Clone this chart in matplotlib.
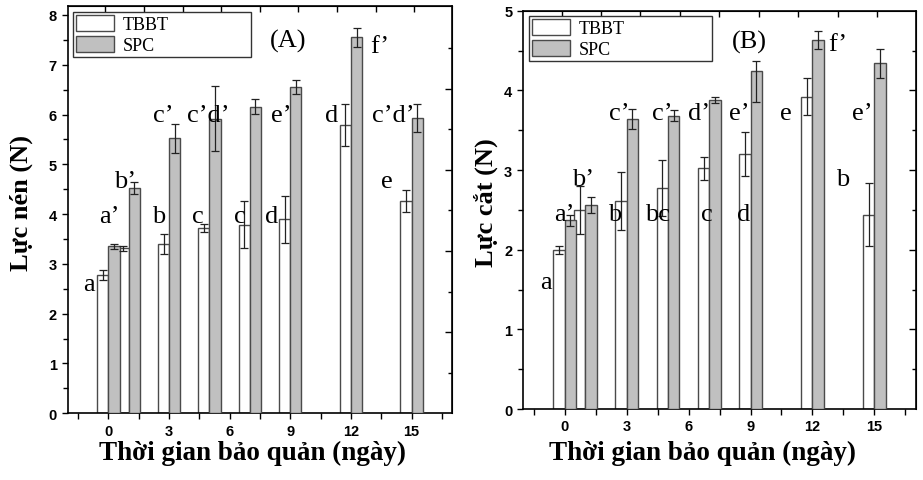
import matplotlib
matplotlib.use("Agg")
import matplotlib.pyplot as plt
from matplotlib.ticker import MultipleLocator, FixedLocator, NullFormatter
from matplotlib.patches import Patch

# group centres as they are drawn in the figure (the x axis is labelled in days)
groups = [0, 1, 3, 5, 7, 9, 12, 15]
day_ticks = [0, 3, 6, 9, 12, 15]

# (A) Lực nén (N)
tbbt_a = [2.78, 3.31, 3.40, 3.73, 3.79, 3.90, 5.79, 4.26]
tbbt_a_err = [0.10, 0.06, 0.20, 0.08, 0.48, 0.47, 0.42, 0.22]
spc_a = [3.35, 4.52, 5.52, 5.92, 6.16, 6.56, 7.55, 5.93]
spc_a_err = [0.05, 0.12, 0.30, 0.66, 0.15, 0.14, 0.19, 0.29]

# (B) Lực cắt (N)
tbbt_b = [2.00, 2.50, 2.61, 2.77, 3.02, 3.20, 3.92, 2.44]
tbbt_b_err = [0.05, 0.30, 0.36, 0.35, 0.14, 0.28, 0.23, 0.40]
spc_b = [2.37, 2.56, 3.64, 3.68, 3.88, 4.24, 4.63, 4.34]
spc_b_err_lo = [0.07, 0.10, 0.13, 0.07, 0.04, 0.38, 0.11, 0.18]
spc_b_err_hi = [0.07, 0.10, 0.13, 0.07, 0.04, 0.13, 0.11, 0.18]

# significance letters
letters_a = ["a", "a’", "b’", "b", "c’", "c", "c’d’", "c", "e’", "d", "d", "f’", "c’d’", "e", "(A)"]
letters_a_x = [-0.96, 0.06, 0.8, 2.46, 2.7, 4.44, 4.93, 6.5, 8.56, 8.07, 11.04, 13.43, 14.09, 13.76, 8.89]
letters_a_y = [2.6, 3.97, 4.67, 3.97, 6.0, 3.97, 6.0, 3.97, 6.0, 3.97, 6.0, 7.38, 6.0, 4.67, 7.48]

letters_b = ["a", "a’", "b’", "b", "c’", "bc", "c’", "d’", "c", "e’", "d", "e", "f’", "e’", "b", "(B)"]
letters_b_x = [-0.89, 0.0, 0.88, 2.4, 2.65, 4.5, 4.74, 6.5, 6.88, 8.44, 8.65, 10.7, 13.2, 14.4, 13.44, 8.93]
letters_b_y = [1.59, 2.45, 2.89, 2.45, 3.72, 2.45, 3.72, 3.72, 2.45, 3.72, 2.45, 3.72, 4.58, 3.72, 2.89, 4.62]

serif = "Liberation Serif"
sans = "Liberation Sans"
bar_w = 0.55
white_col = "white"
grey_col = "#c0c0c0"
edge_col = "#4a4a4a"

# odd extra ticks on the top / right frame lines
top_ticks = [-0.15, 1.76, 3.67, 5.58, 7.49, 9.40, 11.31, 13.22, 15.13]
right_a_major = [1.63, 3.25, 4.89, 6.51]
right_a_minor = [0.81, 2.44, 4.08, 5.71, 7.34]
right_b_major = [1, 2, 3, 4]
right_b_minor = [0.5, 1.5, 2.5, 3.5, 4.5]

fig = plt.figure(figsize=(9.23, 4.81), dpi=100)
ax_a = fig.add_axes([0.0737, 0.1387, 0.4160, 0.8467])
ax_b = fig.add_axes([0.5670, 0.1476, 0.4251, 0.8281])


def draw_panel(ax, tbbt, tbbt_err, spc, spc_err, ymax, ylabel, letters, lx, ly,
               r_major, r_minor, legend_box):
    left = [g - bar_w / 2 for g in groups]
    right = [g + bar_w / 2 for g in groups]
    ax.bar(groups, tbbt, width=-bar_w, align="edge", color=white_col,
           edgecolor=edge_col, linewidth=1.0, zorder=2)
    ax.bar(groups, spc, width=bar_w, align="edge", color=grey_col,
           edgecolor=edge_col, linewidth=1.0, zorder=3)
    ax.errorbar(left, tbbt, yerr=tbbt_err, fmt="none", ecolor="#222222",
                elinewidth=0.9, capsize=3, capthick=0.9, zorder=4)
    ax.errorbar(right, spc, yerr=spc_err, fmt="none", ecolor="#222222",
                elinewidth=0.9, capsize=3, capthick=0.9, zorder=4)

    for t, x, y in zip(letters, lx, ly):
        ax.text(x, y, t, ha="center", va="center", fontsize=19,
                family=serif, zorder=5)

    ax.set_xlim(-2.0, 17.0)
    ax.set_ylim(0, ymax)
    ax.set_xticks(day_ticks)
    ax.xaxis.set_minor_locator(FixedLocator([-1.5, 1.5, 4.5, 7.5, 10.5, 13.5, 16.5]))
    ax.yaxis.set_major_locator(MultipleLocator(1))
    ax.yaxis.set_minor_locator(MultipleLocator(0.5))
    ax.tick_params(which="both", direction="out", top=False, right=False,
                   width=1.0, labelsize=10.5)
    ax.tick_params(which="major", length=4.5)
    ax.tick_params(which="minor", length=3.5)
    ax.tick_params(axis="x", which="both", length=4)
    for lab in ax.get_xticklabels() + ax.get_yticklabels():
        lab.set_fontfamily(sans)
        lab.set_fontweight("bold")
    for sp in ax.spines.values():
        sp.set_linewidth(1.2)

    sec_x = ax.secondary_xaxis("top")
    sec_x.set_xticks(top_ticks)
    sec_x.xaxis.set_major_formatter(NullFormatter())
    sec_x.tick_params(direction="in", length=4, width=1.0)
    sec_y = ax.secondary_yaxis("right")
    sec_y.set_yticks(r_major)
    sec_y.set_yticks(r_minor, minor=True)
    sec_y.yaxis.set_major_formatter(NullFormatter())
    sec_y.yaxis.set_minor_formatter(NullFormatter())
    sec_y.tick_params(which="major", direction="in", length=5, width=1.0)
    sec_y.tick_params(which="minor", direction="in", length=3, width=1.0)

    ax.set_ylabel(ylabel, fontsize=19, family=serif, fontweight="bold")
    ax.set_xlabel("Thời gian bảo quản (ngày)", fontsize=19.5, family=serif,
                  fontweight="bold")

    handles = [Patch(facecolor=white_col, edgecolor=edge_col, linewidth=1.0),
               Patch(facecolor=grey_col, edgecolor=edge_col, linewidth=1.0)]
    leg = ax.legend(handles, ["TBBT", "SPC"], loc="upper left",
                    bbox_to_anchor=legend_box, mode="expand", fancybox=False,
                    edgecolor="#333333", framealpha=1,
                    prop={"family": serif, "size": 13},
                    handlelength=2.1, handleheight=1.0, handletextpad=0.5,
                    labelspacing=0.15, borderpad=0.15, borderaxespad=0)
    leg.get_frame().set_linewidth(1.0)
    leg.set_zorder(6)


draw_panel(ax_a, tbbt_a, tbbt_a_err, spc_a, spc_a_err, 8.18, "Lực nén (N)",
           letters_a, letters_a_x, letters_a_y, right_a_major, right_a_minor,
           (0.013, 0.885, 0.464, 0.1))
draw_panel(ax_b, tbbt_b, tbbt_b_err, spc_b, [spc_b_err_lo, spc_b_err_hi], 5.0,
           "Lực cắt (N)", letters_b, letters_b_x, letters_b_y, right_b_major,
           right_b_minor, (0.015, 0.886, 0.465, 0.1))

ax_a.yaxis.set_label_coords(-0.09, 0.52)
ax_b.yaxis.set_label_coords(-0.065, 0.52)
ax_a.xaxis.set_label_coords(0.48, -0.065)
ax_b.xaxis.set_label_coords(0.457, -0.078)

fig.savefig("out.png", dpi=100)
